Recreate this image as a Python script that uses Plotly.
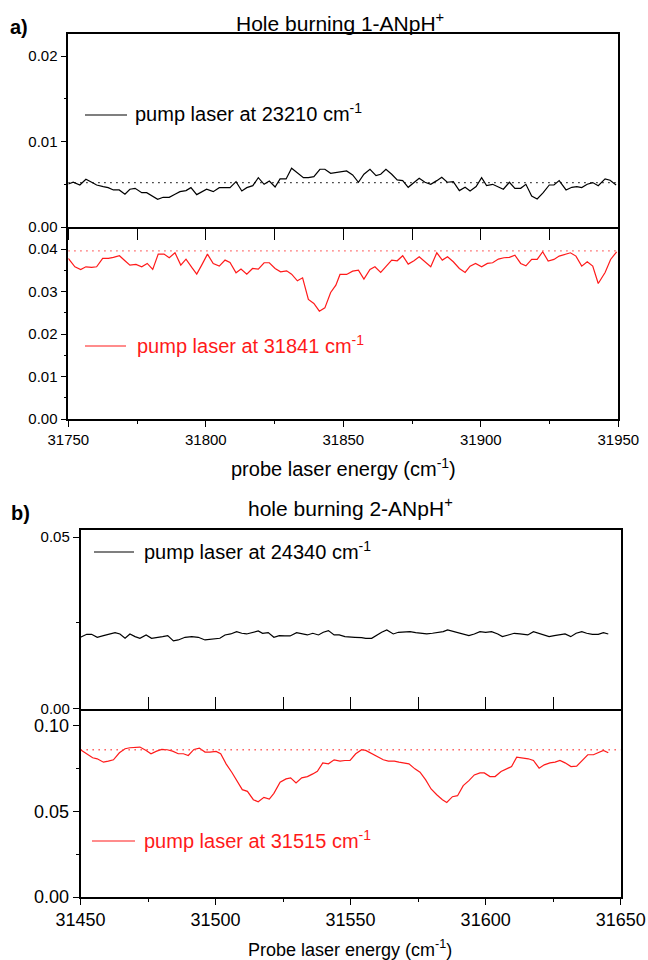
import plotly.graph_objects as go

# ---------------- data ----------------
# a) 1-ANpH+ : probe laser energy (cm-1) and signal
a_pump1_x = [31750.0, 31751.8, 31754.2, 31756.4, 31758.5, 31760.3, 31762.7, 31764.5, 31766.4, 31768.5,
             31770.6, 31772.4, 31774.3, 31776.7, 31778.5, 31780.7, 31782.5, 31784.5, 31786.7, 31788.8,
             31790.6, 31792.8, 31794.6, 31796.7, 31798.5, 31800.3, 31802.7, 31804.9, 31807.0, 31808.8,
             31811.0, 31813.1, 31814.9, 31817.1, 31819.1, 31821.2, 31823.1, 31825.2, 31827.0, 31829.2,
             31831.2, 31833.3, 31835.5, 31837.3, 31839.3, 31841.5, 31843.3, 31845.4,
             31848.8, 31851.2, 31853.4, 31855.5, 31857.5, 31859.7, 31861.9, 31863.6, 31865.5, 31867.6,
             31869.6, 31871.6, 31873.6, 31875.7, 31877.6, 31879.7, 31881.8, 31884.0, 31885.8, 31887.8,
             31890.0, 31892.2, 31894.3, 31896.1, 31898.3, 31900.3, 31902.1, 31904.3, 31906.4, 31908.2,
             31910.4, 31912.4, 31914.5, 31916.4, 31918.5, 31920.5, 31922.7, 31924.9, 31926.6, 31928.5,
             31931.0, 31933.1, 31934.9, 31936.7, 31938.7, 31940.7, 31942.7, 31945.2, 31947.0, 31949.2]
a_pump1_y = [0.00504, 0.00524, 0.00492, 0.00559, 0.00524, 0.00492, 0.00473, 0.00461, 0.00434, 0.00434,
             0.00383, 0.00442, 0.00453, 0.00402, 0.00402, 0.00363, 0.00325, 0.00348, 0.00348, 0.00383,
             0.00414, 0.00426, 0.00461, 0.00379, 0.00414, 0.00442, 0.00414, 0.00461, 0.00461, 0.00461,
             0.00531, 0.00422, 0.00461, 0.00484, 0.00578, 0.00500, 0.00539, 0.00469, 0.00563, 0.00563,
             0.00688, 0.00637, 0.00578, 0.00578, 0.00590, 0.00676, 0.00676, 0.00629,
             0.00641, 0.00657, 0.00610, 0.00524, 0.00618, 0.00676, 0.00602, 0.00618, 0.00676, 0.00618,
             0.00551, 0.00543, 0.00465, 0.00524, 0.00571, 0.00524, 0.00500, 0.00543, 0.00583, 0.00524,
             0.00531, 0.00426, 0.00465, 0.00422, 0.00473, 0.00578, 0.00484, 0.00500, 0.00473, 0.00442,
             0.00524, 0.00453, 0.00453, 0.00500, 0.00363, 0.00328, 0.00402, 0.00492, 0.00492, 0.00543,
             0.00434, 0.00465, 0.00473, 0.00461, 0.00500, 0.00520, 0.00484, 0.00563, 0.00547, 0.00492]
a_pump1_ref = 0.0052

a_pump2_x = [31750.0, 31752.4, 31754.5, 31756.4, 31758.5, 31760.3, 31762.5, 31764.6, 31766.4, 31768.6,
             31770.6, 31772.4, 31774.6, 31776.7, 31778.7, 31780.7, 31782.7, 31784.8, 31786.7, 31788.8,
             31790.9, 31792.8, 31794.9, 31796.7, 31798.5, 31800.6, 31802.7, 31804.9, 31807.0, 31808.8,
             31811.0, 31812.8, 31814.9, 31817.0, 31819.1, 31821.2, 31823.1, 31825.2, 31827.2, 31829.4,
             31831.2, 31833.3, 31835.2, 31837.3, 31839.3, 31841.3, 31843.3, 31845.4, 31847.3,
             31848.8, 31851.2, 31853.4, 31855.5, 31857.5, 31859.7, 31861.5, 31863.6, 31865.5, 31867.6,
             31869.6, 31871.6, 31873.6, 31875.7, 31877.6, 31879.7, 31881.8, 31884.0, 31886.0, 31887.9,
             31890.0, 31892.2, 31894.3, 31896.1, 31898.1, 31900.3, 31902.4, 31904.3, 31906.4, 31908.4,
             31910.4, 31912.4, 31914.5, 31916.4, 31918.5, 31920.5, 31922.5, 31924.5, 31926.6, 31928.5,
             31930.6, 31932.6, 31934.6, 31936.7, 31938.7, 31940.7, 31942.7, 31945.2, 31947.2, 31949.4]
a_pump2_y = [0.03780, 0.03583, 0.03520, 0.03583, 0.03568, 0.03583, 0.03780, 0.03780, 0.03804, 0.03843,
             0.03725, 0.03623, 0.03638, 0.03583, 0.03662, 0.03520, 0.03882, 0.03882, 0.03796, 0.03913,
             0.03623, 0.03764, 0.03568, 0.03410, 0.03623, 0.03882, 0.03662, 0.03599, 0.03741, 0.03686,
             0.03442, 0.03528, 0.03410, 0.03544, 0.03528, 0.03678, 0.03678, 0.03544, 0.03465, 0.03489,
             0.03410, 0.03253, 0.03324, 0.02813, 0.02719, 0.02538, 0.02616, 0.02978, 0.03151,
             0.03403, 0.03403, 0.03481, 0.03505, 0.03292, 0.03520, 0.03583, 0.03450, 0.03599, 0.03741,
             0.03725, 0.03843, 0.03646, 0.03725, 0.03819, 0.03701, 0.03583, 0.03913, 0.03741, 0.03819,
             0.03701, 0.03544, 0.03450, 0.03599, 0.03662, 0.03583, 0.03662, 0.03678, 0.03764, 0.03796,
             0.03804, 0.03858, 0.03662, 0.03607, 0.03756, 0.03756, 0.03937, 0.03717, 0.03756, 0.03835,
             0.03882, 0.03913, 0.03835, 0.03599, 0.03701, 0.03599, 0.03190, 0.03450, 0.03756, 0.03937]
a_pump2_ref = 0.0396

# b) 2-ANpH+
b_pump1_x = [31450.0, 31452.3, 31454.1, 31456.2, 31458.5, 31460.7, 31462.8, 31464.6, 31466.5, 31468.3,
             31470.2, 31472.0, 31474.3, 31476.3, 31478.4, 31480.4, 31482.3, 31484.4, 31486.2, 31488.7,
             31491.2, 31493.6, 31496.1, 31498.6, 31501.6, 31503.5, 31505.6, 31507.8, 31509.7, 31511.5,
             31513.7, 31515.8, 31517.4, 31519.5, 31521.6, 31523.6, 31525.7, 31527.6, 31530.0, 31531.9,
             31534.0, 31536.0, 31538.1, 31539.9, 31541.8, 31543.9, 31545.8,
             31547.9, 31549.8, 31551.6, 31554.1, 31555.6, 31557.8, 31559.7, 31561.5, 31563.4, 31565.8,
             31567.7, 31569.9, 31572.0, 31574.1, 31576.1, 31578.2, 31580.3, 31582.2, 31584.3, 31585.9,
             31588.0, 31590.1, 31592.1, 31593.8, 31595.8, 31597.9, 31600.0, 31602.2, 31604.5, 31606.2,
             31608.4, 31610.6, 31612.7, 31615.6, 31617.7, 31619.5, 31621.6, 31623.5, 31625.4, 31627.5,
             31629.4, 31631.5, 31633.5, 31635.6, 31637.4, 31639.5, 31641.7, 31643.6, 31645.4]
b_pump1_y = [0.02082, 0.02169, 0.02169, 0.02082, 0.02130, 0.02169, 0.02218, 0.02179, 0.02053, 0.02179,
             0.02101, 0.02053, 0.02150, 0.02053, 0.02072, 0.02101, 0.02130, 0.01975, 0.02004, 0.02082,
             0.02101, 0.02082, 0.02004, 0.02033, 0.02053, 0.02150, 0.02179, 0.02247, 0.02199, 0.02179,
             0.02228, 0.02267, 0.02199, 0.02218, 0.02082, 0.02130, 0.02121, 0.02121, 0.02218, 0.02179,
             0.02150, 0.02199, 0.02150, 0.02228, 0.02276, 0.02150, 0.02150,
             0.02101, 0.02082, 0.02082, 0.02072, 0.02053, 0.02053, 0.02150, 0.02228, 0.02296, 0.02179,
             0.02228, 0.02247, 0.02247, 0.02218, 0.02199, 0.02179, 0.02199, 0.02228, 0.02247, 0.02296,
             0.02247, 0.02199, 0.02150, 0.02130, 0.02179, 0.02247, 0.02228, 0.02247, 0.02179, 0.02101,
             0.02150, 0.02199, 0.02179, 0.02150, 0.02247, 0.02199, 0.02150, 0.02101, 0.02130, 0.02150,
             0.02179, 0.02101, 0.02199, 0.02247, 0.02199, 0.02169, 0.02169, 0.02218, 0.02179]

b_pump2_x = [31450.0, 31452.3, 31454.5, 31456.2, 31458.5, 31460.3, 31462.2, 31464.4, 31466.5, 31468.3,
             31470.2, 31472.0, 31474.3, 31476.1, 31478.2, 31480.1, 31482.1, 31484.1, 31486.2, 31488.1,
             31489.9, 31492.0, 31494.0, 31496.1, 31497.9, 31500.2, 31501.9, 31503.9, 31506.0, 31507.8,
             31509.9, 31511.8, 31514.0, 31515.8, 31517.9, 31519.9, 31521.6, 31523.9, 31526.1, 31527.8,
             31529.8, 31531.9, 31534.0, 31536.0, 31537.7, 31539.7, 31541.8, 31543.9, 31546.1,
             31547.9, 31549.8, 31551.9, 31554.1, 31555.6, 31557.8, 31560.0, 31562.1, 31564.0, 31566.2,
             31567.9, 31570.1, 31571.6, 31573.8, 31575.7, 31577.8, 31579.8, 31581.9, 31584.0, 31585.6,
             31587.7, 31589.6, 31591.7, 31593.8, 31595.8, 31597.9, 31599.5, 31601.6, 31603.5, 31605.7,
             31607.8, 31609.6, 31611.5, 31613.6, 31615.8, 31617.7, 31619.8, 31621.7, 31623.8, 31625.7,
             31627.5, 31629.4, 31631.6, 31633.7, 31635.8, 31637.8, 31639.9, 31641.7, 31643.6, 31645.4]
b_pump2_y = [0.08610, 0.08375, 0.08139, 0.08081, 0.07884, 0.07943, 0.08022, 0.08433, 0.08669, 0.08728,
             0.08728, 0.08767, 0.08571, 0.08375, 0.08531, 0.08629, 0.08610, 0.08531, 0.08375, 0.08375,
             0.08276, 0.08629, 0.08708, 0.08472, 0.08472, 0.08512, 0.08375, 0.07786, 0.07296, 0.06845,
             0.06276, 0.06178, 0.05688, 0.05571, 0.05825, 0.05728, 0.06061, 0.06708, 0.06904, 0.06963,
             0.06669, 0.06963, 0.07041, 0.07198, 0.07355, 0.07845, 0.07786, 0.08022, 0.07943,
             0.07982, 0.07982, 0.08375, 0.08610, 0.08571, 0.08375, 0.08178, 0.08022, 0.07943, 0.07943,
             0.07884, 0.07825, 0.07786, 0.07492, 0.07296, 0.06845, 0.06316, 0.05982, 0.05688, 0.05531,
             0.05865, 0.05924, 0.06512, 0.06806, 0.07139, 0.07257, 0.07257, 0.07041, 0.07041, 0.07335,
             0.07492, 0.07629, 0.08178, 0.08139, 0.08081, 0.07982, 0.07531, 0.07728, 0.07845, 0.07884,
             0.07982, 0.07845, 0.07629, 0.07649, 0.08022, 0.08316, 0.08316, 0.08433, 0.08571, 0.08433]
b_pump2_ref = 0.0861

a_range = [31750, 31950]
b_range = [31450, 31650]
a_ticks = [31750, 31800, 31850, 31900, 31950]
b_ticks = [31450, 31500, 31550, 31600, 31650]

# ---------------- layout helpers (pixel positions on a 648 x 960 page) ----------------
W, H = 648, 960
FONT = "Liberation Sans, Arial, sans-serif"
RED = "#ff1a1a"
REF_RED = "#ff4040"


def px(x):
    return x / W


def py(y):
    return 1 - y / H


fig = go.Figure()

# curves and dotted reference levels
fig.add_trace(go.Scatter(x=a_pump1_x, y=a_pump1_y, mode="lines", line=dict(color="black", width=1.2),
                         xaxis="x", yaxis="y", showlegend=False))
fig.add_trace(go.Scatter(x=a_range, y=[a_pump1_ref, a_pump1_ref], mode="lines",
                         line=dict(color="black", width=1.3, dash="1.3px,4.7px"),
                         xaxis="x", yaxis="y", showlegend=False))
fig.add_trace(go.Scatter(x=a_pump2_x, y=a_pump2_y, mode="lines", line=dict(color=RED, width=1.2),
                         xaxis="x2", yaxis="y2", showlegend=False))
fig.add_trace(go.Scatter(x=a_range, y=[a_pump2_ref, a_pump2_ref], mode="lines",
                         line=dict(color=REF_RED, width=1.3, dash="1.3px,4.7px"),
                         xaxis="x2", yaxis="y2", showlegend=False))
fig.add_trace(go.Scatter(x=b_pump1_x, y=b_pump1_y, mode="lines", line=dict(color="black", width=1.2),
                         xaxis="x3", yaxis="y3", showlegend=False))
fig.add_trace(go.Scatter(x=b_pump2_x, y=b_pump2_y, mode="lines", line=dict(color=RED, width=1.2),
                         xaxis="x4", yaxis="y4", showlegend=False))
fig.add_trace(go.Scatter(x=b_range, y=[b_pump2_ref, b_pump2_ref], mode="lines",
                         line=dict(color=REF_RED, width=1.3, dash="1.3px,4.7px"),
                         xaxis="x4", yaxis="y4", showlegend=False))

AX = dict(showline=True, linecolor="black", linewidth=1.5, mirror=True, showgrid=False,
          zeroline=False, tickcolor="black", tickwidth=1.2, fixedrange=True, automargin=False)

a_x_dom = [px(68.3), px(618.3)]
b_x_dom = [px(80.5), px(620.7)]

fig.update_layout(
    width=W, height=H, margin=dict(l=0, r=0, t=0, b=0, pad=0),
    # transparent plot areas so ticks reaching into a neighbouring plot stay visible
    paper_bgcolor="white", plot_bgcolor="rgba(0,0,0,0)",
    font=dict(family=FONT, color="black"),
    # panel a, upper plot
    xaxis=dict(AX, domain=a_x_dom, anchor="y", range=a_range, ticks="outside", ticklen=11,
               tick0=31750, dtick=25, showticklabels=False),
    yaxis=dict(AX, domain=[py(227), py(34)], anchor="x", range=[0, 0.0226], ticks="outside",
               ticklen=6, tickvals=[0, 0.01, 0.02], tickformat=".2f", tickfont=dict(size=15),
               minor=dict(ticks="outside", ticklen=3, tickvals=[0.005, 0.015], tickcolor="black")),
    # panel a, lower plot (its top edge is drawn by the upper plot's axis line)
    xaxis2=dict(AX, mirror=False, domain=a_x_dom, anchor="y2", range=a_range, ticks="outside",
                ticklen=6, tickvals=a_ticks, tickformat="d", tickfont=dict(size=15),
                minor=dict(ticks="outside", ticklen=3, tick0=31775, dtick=50, tickcolor="black")),
    yaxis2=dict(AX, domain=[py(419), py(227)], anchor="x2", range=[0, 0.0452], ticks="outside",
                ticklen=6, tickvals=[0, 0.01, 0.02, 0.03, 0.04], tickformat=".2f",
                tickfont=dict(size=15),
                minor=dict(ticks="outside", ticklen=3, tick0=0.005, dtick=0.01, tickcolor="black")),
    # panel b, upper plot
    xaxis3=dict(AX, domain=b_x_dom, anchor="y3", range=b_range, ticks="inside", ticklen=12,
                tick0=31450, dtick=25, showticklabels=False),
    yaxis3=dict(AX, domain=[py(708.7), py(530)], anchor="x3", range=[0, 0.0521], ticks="outside",
                ticklen=6, tickvals=[0, 0.05], tickformat=".2f", tickfont=dict(size=15),
                minor=dict(ticks="outside", ticklen=3, tickvals=[0.025], tickcolor="black")),
    # panel b, lower plot
    xaxis4=dict(AX, mirror=False, domain=b_x_dom, anchor="y4", range=b_range, ticks="outside",
                ticklen=6, tickvals=b_ticks, tickformat="d", tickfont=dict(size=18),
                minor=dict(ticks="outside", ticklen=3, tick0=31475, dtick=50, tickcolor="black")),
    yaxis4=dict(AX, domain=[py(897), py(708.7)], anchor="x4", range=[0, 0.1101], ticks="outside",
                ticklen=6, tickvals=[0, 0.05, 0.10], tickformat=".2f", tickfont=dict(size=18),
                minor=dict(ticks="outside", ticklen=3, tickvals=[0.025, 0.075], tickcolor="black")),
)

annotations = []


def label(text, x, y, size, color="black", xanchor="center", yanchor="middle"):
    annotations.append(dict(text=text, x=px(x), y=py(y), xref="paper", yref="paper",
                            xanchor=xanchor, yanchor=yanchor, showarrow=False,
                            font=dict(family=FONT, size=size, color=color)))


label("<b>a)</b>", 8, 27, 20, xanchor="left")
label("Hole burning 1-ANpH<sup>+</sup>", 340, 22, 21)
label("probe laser energy (cm<sup>-1</sup>)", 343, 467, 20)
label("<b>b)</b>", 9, 513, 20, xanchor="left")
label("hole burning 2-ANpH<sup>+</sup>", 350, 507, 21)
label("Probe laser energy (cm<sup>-1</sup>)", 350, 948, 18)

# legend entries: sample line + text
legend_rows = [
    ("pump laser at 23210 cm<sup>-1</sup>", "black", 85, 127, 133, 115),
    ("pump laser at 31841 cm<sup>-1</sup>", RED, 85, 126, 135, 346),
    ("pump laser at 24340 cm<sup>-1</sup>", "black", 94, 134, 142, 552),
    ("pump laser at 31515 cm<sup>-1</sup>", RED, 92, 135, 142, 841),
]
shapes = []
for text, color, x0, x1, xt, yc in legend_rows:
    shapes.append(dict(type="line", xref="paper", yref="paper", x0=px(x0), x1=px(x1),
                       y0=py(yc), y1=py(yc), line=dict(color=color, width=1.2)))
    label(text, xt, yc - 2, 20, color=color, xanchor="left")

fig.update_layout(annotations=annotations, shapes=shapes)

fig.write_html("out.html")
